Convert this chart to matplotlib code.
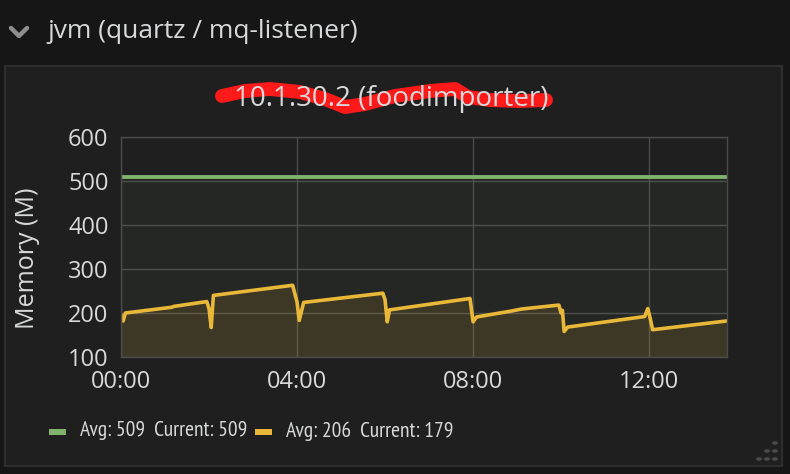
import matplotlib
matplotlib.use("Agg")
import matplotlib.pyplot as plt
from matplotlib.patches import Rectangle, Circle
from matplotlib.lines import Line2D

plt.rcParams['font.family'] = ['Open Sans', 'DejaVu Sans']

# ---- data ----
row_title = "jvm (quartz / mq-listener)"
panel_title = "10.1.30.2 (foodimporter)"
y_label = "Memory (M)"
x_ticks_h = [0, 4, 8, 12]
x_tick_labels = ["00:00", "04:00", "08:00", "12:00"]
y_ticks = [100, 200, 300, 400, 500, 600]

green_t = [0.0, 13.77]
green_v = [509, 509]

yellow_t = [0.0, 0.05, 0.1, 1.15, 1.2, 1.95, 2.0, 2.05, 2.1, 3.9, 4.0, 4.05,
            4.15, 5.95, 6.0, 6.05, 6.1, 7.93, 8.0, 8.08, 8.9, 9.1, 9.95,
            10.0, 10.03, 10.07, 10.15, 11.9, 11.97, 12.02, 12.08, 13.77]
yellow_v = [196, 182, 200, 213, 215, 226, 210, 167, 240, 263, 225, 183,
            224, 245, 230, 180, 207, 233, 180, 191, 205, 209, 218,
            200, 206, 158, 168, 192, 210, 190, 162, 182]

legend_labels = ["Avg: 509  Current: 509", "Avg: 206  Current: 179"]
GREEN = "#7eb26d"
YELLOW = "#eab839"
TXT = "#d8d9da"

W, H = 790, 474
fig = plt.figure(figsize=(W / 100, H / 100), dpi=100, facecolor="#161616")

def fx(px):
    return px / W

def fy(py):
    return 1 - py / H

# panel background
fig.add_artist(Rectangle((fx(5), fy(466)), fx(777), (466 - 66) / H,
                         transform=fig.transFigure, facecolor="#1f1f1f",
                         edgecolor="#2e2e2e", linewidth=1.5, zorder=0))

# header chevron + title
fig.add_artist(Line2D([fx(11), fx(19), fx(27)], [fy(28), fy(36), fy(28)],
                      transform=fig.transFigure, color="#8e8e8e", linewidth=3.2,
                      solid_capstyle="round"))
fig.text(fx(47), fy(31), row_title, color=TXT, fontsize=19,
         ha="left", va="center")

# panel title + redaction scribble
fig.text(fx(391), fy(99), panel_title, color=TXT, fontsize=20,
         ha="center", va="center")
sx = [222, 245, 270, 300, 325, 345, 365, 395, 430, 455, 468, 490, 520, 546]
sy = [96, 91, 89, 92, 99, 107, 104, 96, 91, 89, 97, 100, 101, 100]
fig.add_artist(Line2D([fx(v) for v in sx], [fy(v) for v in sy],
                      transform=fig.transFigure, color="#ff1a1a", linewidth=10,
                      solid_capstyle="round", solid_joinstyle="round"))

# axes
ax = fig.add_axes([fx(121), fy(357), (727 - 121) / W, (357 - 137) / H])
ax.set_facecolor("#1f1f1f")
ax.set_xlim(0, 13.77)
ax.set_ylim(100, 600)

ax.fill_between(green_t, green_v, 100, color=GREEN, alpha=0.06, linewidth=0)
ax.fill_between(yellow_t, yellow_v, 100, color=YELLOW, alpha=0.12, linewidth=0)
ax.plot(green_t, green_v, color=GREEN, linewidth=2.8, solid_capstyle="butt")
ax.plot(yellow_t, yellow_v, color=YELLOW, linewidth=2.6,
        solid_joinstyle="round")

ax.set_xticks(x_ticks_h)
ax.set_xticklabels(x_tick_labels)
ax.set_yticks(y_ticks)
ax.tick_params(colors=TXT, labelsize=17, length=0)
ax.tick_params(axis="y", pad=9)
ax.tick_params(axis="x", pad=9)
ax.grid(True, color="#4a4a4a", linewidth=1)
ax.set_axisbelow(True)
for s in ax.spines.values():
    s.set_color("#4a4a4a")
    s.set_linewidth(1)
ax.set_ylabel(y_label, color=TXT, fontsize=18)
ax.yaxis.set_label_coords((40 - 121) / 606, 0.45)

# legend
for lab, col, sw_x, tx in zip(legend_labels, [GREEN, YELLOW], [49, 255], [80, 286]):
    fig.add_artist(Rectangle((fx(sw_x), fy(435)), fx(17), 6 / H,
                             transform=fig.transFigure, facecolor=col,
                             edgecolor="none"))
    fig.text(fx(tx), fy(431), lab, color=TXT, fontsize=15.5,
             family=["PT Sans Narrow", "Fira Sans Condensed", "Open Sans", "DejaVu Sans"],
             ha="left", va="center")

# resize handle dots
for (cx, cy) in [(775, 443), (767, 451), (775, 451), (759, 459), (767, 459), (775, 459)]:
    fig.add_artist(Circle((fx(cx), fy(cy)), 3 / W, transform=fig.transFigure,
                          facecolor="#4a4a4a", edgecolor="none"))

fig.savefig("out.png", dpi=100, facecolor=fig.get_facecolor())
